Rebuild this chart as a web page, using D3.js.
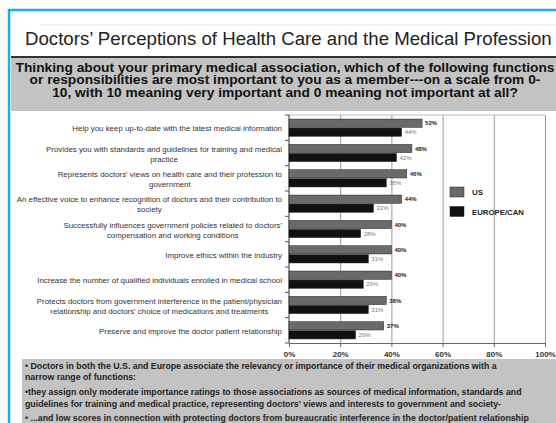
<!DOCTYPE html>
<html><head><meta charset="utf-8">
<script src="https://cdn.jsdelivr.net/npm/d3@7"></script>
<style>
html,body{margin:0;padding:0;background:#fff;}
svg{display:block;font-family:"Liberation Sans",Arial,sans-serif;}
</style></head>
<body>
<svg id="c" width="556" height="423"></svg>
<script>
const categories = [
  ["Help you keep up-to-date with the latest medical information"],
  ["Provides you with standards and guidelines for training and medical","practice"],
  ["Represents doctors' views on health care and their profession to","government"],
  ["An effective voice to enhance recognition of doctors and their contribution to","society"],
  ["Successfully influences government policies related to doctors'","compensation and working conditions"],
  ["Improve ethics within the industry"],
  ["Increase the number of qualified individuals enrolled in medical school"],
  ["Protects doctors from government interference in the patient/physician","relationship and doctors' choice of medications and treatments"],
  ["Preserve and improve the doctor patient relationship"]
];
const seriesNames = ["US","EUROPE/CAN"];
const usValues = [52,48,46,44,40,40,40,38,37];
const euValues = [44,42,38,33,28,31,29,31,26];
const xTicks = [0,20,40,60,80,100];
const title = "Doctors\u2019 Perceptions of Health Care and the Medical Profession";
const question = [
  "Thinking about your primary medical association, which of the following functions",
  "or responsibilities are most important to you as a member---on a scale from 0-",
  "10, with 10 meaning very important and 0 meaning not important at all?"
];
const notes = [
  "\u2022 Doctors in both the U.S. and Europe associate the relevancy or importance of their medical organizations with a",
  "narrow range of functions:",
  "\u2022they assign only moderate importance ratings to those associations as sources of medical information, standards and",
  "guidelines for training and medical practice, representing doctors' views and interests to government and society-",
  "\u2022 ...and low scores in connection with protecting doctors from bureaucratic interference in the doctor/patient relationship"
];

const svg = d3.select("#c");
const colors = ["#6a6a6a","#111111"];

// frame
svg.append("rect").attr("x",9).attr("y",10).attr("width",560).attr("height",430)
  .attr("fill","none").attr("stroke","#19aee6").attr("stroke-width",2.5);
svg.append("line").attr("x1",40).attr("x2",556).attr("y1",25).attr("y2",25).attr("stroke","#eee").attr("stroke-width",1.5);
// title, fitted to the reference width
const tt = svg.append("text").attr("x",25).attr("y",45).attr("font-size",19).attr("fill","#222").text(title);
const tw = tt.node().getComputedTextLength();
tt.attr("font-size",19*527/tw);
svg.append("line").attr("x1",11).attr("x2",556).attr("y1",57).attr("y2",57).attr("stroke","#333").attr("stroke-width",2);
// question box
svg.append("rect").attr("x",11).attr("y",58).attr("width",545).attr("height",53).attr("fill","#c3c3c3");
const qt = svg.append("g").selectAll("text").data(question).join("text")
  .attr("x",285).attr("y",(d,i)=>71.5+i*12.5).attr("text-anchor","middle")
  .attr("font-size",12.4).attr("font-weight","bold").attr("fill","#111").text(d=>d);
const qf = 539/qt.nodes()[0].getComputedTextLength();
qt.each(function(){
  const w = this.getComputedTextLength();
  d3.select(this).attr("textLength",w*qf).attr("lengthAdjust","spacingAndGlyphs");
});

// plot
const x = d3.scaleLinear().domain([0,100]).range([289,545]);
const y = d3.scaleBand().domain(d3.range(categories.length)).range([115,343]);
const sub = d3.scaleBand().domain([0,1]).range([0,y.bandwidth()]).paddingOuter(0.45).paddingInner(0.08);

// gridlines
svg.append("g").attr("transform","translate(0,115)")
  .call(d3.axisBottom(x).tickValues(xTicks.slice(1)).tickSize(228).tickFormat(""))
  .call(g=>g.select(".domain").remove())
  .call(g=>g.selectAll("line").attr("stroke","#9a9a9a").attr("stroke-width",1));
svg.append("line").attr("x1",289).attr("x2",545).attr("y1",115).attr("y2",115).attr("stroke","#bbb");

// x axis
const xa = svg.append("g").attr("transform","translate(0,343)")
  .call(d3.axisBottom(x).tickValues(xTicks).tickSize(4).tickFormat(d=>d+"%"));
xa.select(".domain").attr("stroke","#666");
xa.selectAll("line").attr("stroke","#666");
xa.selectAll("text").attr("font-size",8).attr("font-weight","bold").attr("fill","#333").attr("dy","0.9em")
  .attr("font-family","\"Liberation Sans\",Arial,sans-serif");

// y axis with ticks at band boundaries
svg.append("line").attr("x1",289).attr("x2",289).attr("y1",115).attr("y2",343).attr("stroke","#333");
svg.append("g").selectAll("line").data(d3.range(categories.length+1)).join("line")
  .attr("x1",285).attr("x2",289)
  .attr("y1",i=>i<categories.length?y(i):343).attr("y2",i=>i<categories.length?y(i):343)
  .attr("stroke","#555");

// bars
const rows = categories.map((c,i)=>({i, vals:[usValues[i],euValues[i]]}));
const grp = svg.append("g").selectAll("g").data(rows).join("g")
  .attr("transform",d=>`translate(0,${y(d.i)})`);
grp.selectAll("rect").data(d=>d.vals.map((v,k)=>({v,k}))).join("rect")
  .attr("x",x(0)).attr("y",d=>sub(d.k)).attr("height",sub.bandwidth())
  .attr("width",d=>x(d.v)-x(0)).attr("fill",d=>colors[d.k])
  .attr("stroke","#222").attr("stroke-width",0.5);
grp.selectAll("text").data(d=>d.vals.map((v,k)=>({v,k}))).join("text")
  .attr("x",d=>x(d.v)+3).attr("y",d=>sub(d.k)+sub.bandwidth()/2+2.3)
  .attr("font-size",6).attr("font-weight",d=>d.k===0?"bold":"normal")
  .attr("fill",d=>d.k===0?"#222":"#777").text(d=>d.v+"%");

// category labels
const lab = svg.append("g").selectAll("g").data(categories).join("g");
lab.each(function(lines,i){
  const g = d3.select(this);
  const cy = y(i)+y.bandwidth()/2+1;
  const lh = 10;
  const ts = lines.map((t,k)=>g.append("text").attr("font-size",7.9).attr("fill","#333")
     .attr("y",cy+(k-(lines.length-1)/2)*lh+2.6).attr("text-anchor","middle").text(t));
  const w = d3.max(ts,t=>t.node().getComputedTextLength());
  ts.forEach(t=>t.attr("x",282-w/2));
});

// legend
const leg = svg.append("g").selectAll("g").data(seriesNames).join("g")
  .attr("transform",(d,i)=>`translate(450,${187+i*19.5})`);
leg.append("rect").attr("width",14).attr("height",10).attr("fill",(d,i)=>colors[i]).attr("stroke","#222").attr("stroke-width",0.5);
leg.append("text").attr("x",22).attr("y",8.2).attr("font-size",7.8).attr("font-weight","bold").attr("fill","#222").text(d=>d);

// notes box
svg.append("rect").attr("x",22).attr("y",359).attr("width",540).attr("height",70).attr("fill","#c3c3c3");
const noteY = [368.5,380,395,406.5,421];
const nt = svg.append("g").selectAll("text").data(notes).join("text")
  .attr("x",25).attr("y",(d,i)=>noteY[i]).attr("font-size",9).attr("font-weight","bold").attr("fill","#222").text(d=>d);
const nw = nt.nodes()[0].getComputedTextLength();
nt.attr("font-size",9*472/nw);
</script>
</body></html>
